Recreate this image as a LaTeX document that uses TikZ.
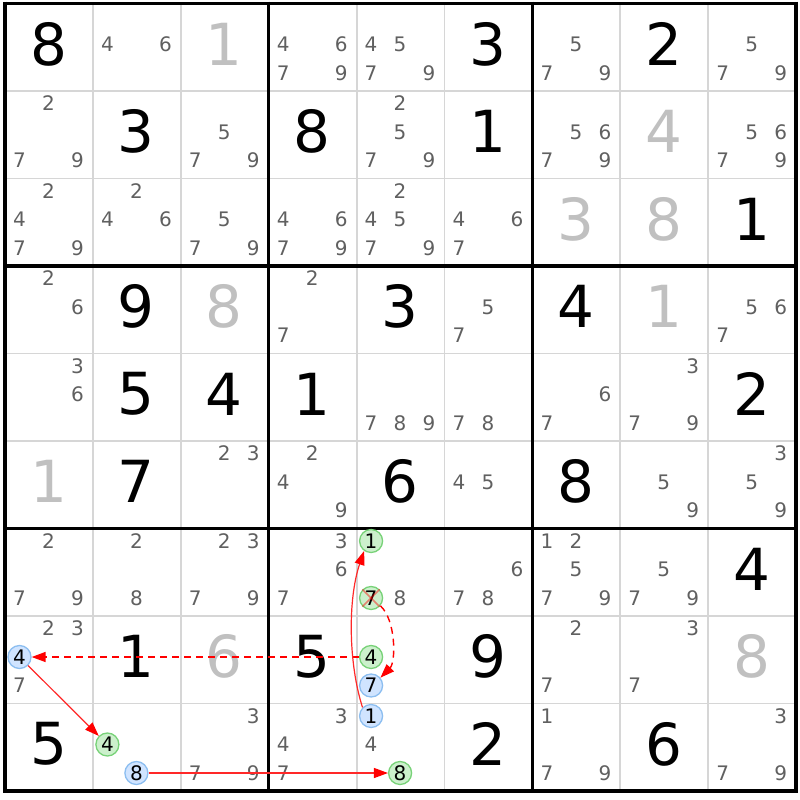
\documentclass[tikz,border=0pt]{standalone}
\usepackage{fontspec}
\setmainfont{DejaVu Sans}
\usetikzlibrary{arrows.meta}
\definecolor{candc}{RGB}{96,96,96}
\definecolor{solvedc}{RGB}{192,192,192}
\definecolor{thinc}{RGB}{214,214,214}
\definecolor{gfill}{RGB}{204,240,204}
\definecolor{gline}{RGB}{120,210,120}
\definecolor{bfill}{RGB}{208,228,255}
\definecolor{bline}{RGB}{140,190,240}
\definecolor{linkc}{RGB}{255,40,40}
\begin{document}
\begin{tikzpicture}[x=1pt,y=-1pt,
  cand/.style={font=\fontsize{20}{20}\selectfont, text=candc, inner sep=0pt},
  bigd/.style={font=\fontsize{58}{58}\selectfont, text=black, inner sep=0pt},
  solved/.style={bigd, text=solvedc},
  gcirc/.style={circle, draw=gline, fill=gfill, line width=1.3pt, minimum size=23pt, inner sep=0pt, font=\fontsize{20}{20}\selectfont, text=black},
  bcirc/.style={gcirc, draw=bline, fill=bfill},
  thinline/.style={draw=thinc, line width=1.8pt},
  thickline/.style={draw=black, line width=3.5pt},
  link/.style={draw=linkc, line width=1.2pt, -{Triangle[length=14pt,width=10pt,color=red]}},
  linkdash/.style={link, draw=red, line width=1.4pt, dash pattern=on 7pt off 5pt},
  crossline/.style={draw=red, opacity=0.45, line width=1.6pt}]
\useasboundingbox (0,0) rectangle (800,800);
\fill[white] (0,0) rectangle (800,800);
% grid
\foreach \i in {1,2,4,5,7,8} {
  \draw[thinline] ({5+87.9*\i},3.5) -- ({5+87.9*\i},791);
  \draw[thinline] (5,{3.5+87.5*\i}) -- (796,{3.5+87.5*\i});
}
\foreach \i in {0,3,6,9} {
  \draw[thickline] ({5+87.9*\i},1.75) -- ({5+87.9*\i},792.75);
  \draw[thickline] (3.25,{3.5+87.5*\i}) -- (797.75,{3.5+87.5*\i});
}
% big digits
\foreach \r/\c/\d in {0/0/8,0/5/3,0/7/2,1/1/3,1/3/8,1/5/1,2/8/1,3/1/9,3/4/3,3/6/4,4/1/5,4/2/4,4/3/1,4/8/2,5/1/7,5/4/6,5/6/8,6/8/4,7/1/1,7/3/5,7/5/9,8/0/5,8/5/2,8/7/6}
  \node[bigd] (v\r\c) at ({5+87.9*\c+43.5},{3.5+87.5*\r+40.5}) {\d};
\foreach \r/\c/\d in {0/2/1,1/7/4,2/6/3,2/7/8,3/2/8,3/7/1,5/0/1,7/2/6,7/8/8}
  \node[solved] (v\r\c) at ({5+87.9*\c+43.5},{3.5+87.5*\r+40.5}) {\d};
% candidates
\foreach \r/\c/\l in {0/1/{4,6},0/3/{4,6,7,9},0/4/{4,5,7,9},0/6/{5,7,9},0/8/{5,7,9},
  1/0/{2,7,9},1/2/{5,7,9},1/4/{2,5,7,9},1/6/{5,6,7,9},1/8/{5,6,7,9},
  2/0/{2,4,7,9},2/1/{2,4,6},2/2/{5,7,9},2/3/{4,6,7,9},2/4/{2,4,5,7,9},2/5/{4,6,7},
  3/0/{2,6},3/3/{2,7},3/5/{5,7},3/8/{5,6,7},
  4/0/{3,6},4/4/{7,8,9},4/5/{7,8},4/6/{6,7},4/7/{3,7,9},
  5/2/{2,3},5/3/{2,4,9},5/5/{4,5},5/7/{5,9},5/8/{3,5,9},
  6/0/{2,7,9},6/1/{2,8},6/2/{2,3,7,9},6/3/{3,6,7},6/4/{8},6/5/{6,7,8},6/6/{1,2,5,7,9},6/7/{5,7,9},
  7/0/{2,3,7},7/6/{2,7},7/7/{3,7},
  8/2/{3,7,9},8/3/{3,4,7},8/4/{4},8/6/{1,7,9},8/8/{3,7,9}} {
  \foreach \k in \l {
    \node[cand] (n\r\c\k) at ({5+87.9*\c+14.5+29*mod(\k-1,3)},{3.5+87.5*\r+12.5+28.5*floor((\k-1)/3)}) {\k};
  }
}
% circled candidates
\node[gcirc] (g641) at (371.1,541) {1};
\node[gcirc] (g647) at (371.1,598) {7};
\node[bcirc] (b704) at (19.5,657) {4};
\node[gcirc] (g744) at (371.1,657) {4};
\node[bcirc] (b747) at (371.1,685.5) {7};
\node[gcirc] (g814) at (107.4,744.5) {4};
\node[bcirc] (b818) at (136.4,773) {8};
\node[bcirc] (b841) at (371.1,716) {1};
\node[gcirc] (g848) at (400.1,773) {8};
% elimination cross
\draw[crossline] (g647.135) -- (g647.-45);
\draw[crossline] (g647.45) -- (g647.-135);
% links
\draw[linkdash] (g744) -- (b704);
\draw[link] (b704) -- (g814);
\draw[link] (b818) -- (g848);
\draw[link] (b841.135) .. controls (348,662) and (348,598) .. (g641.235);
\draw[linkdash] (g647.-40) .. controls (396,620) and (396,662) .. (b747.40);
\end{tikzpicture}
\end{document}
